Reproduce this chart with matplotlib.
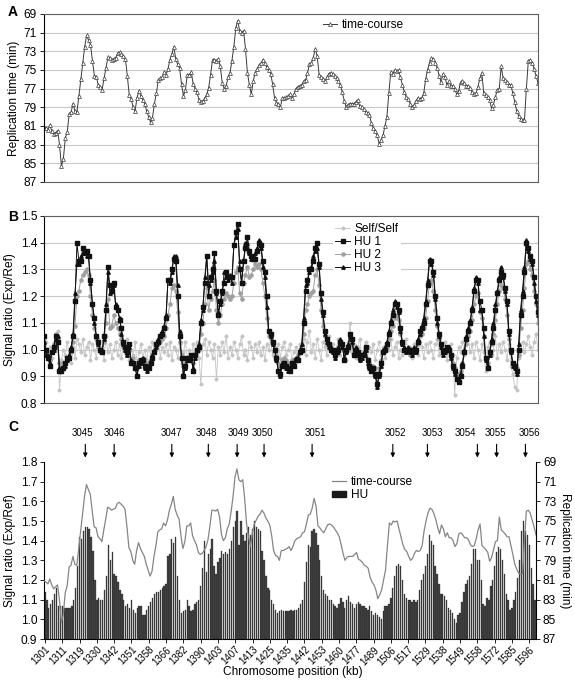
"""
Replication profile figure: time-course replication time (A), HU signal
ratios for three replicates plus a self/self control (B), and the mean HU
signal drawn as bars against the time-course (C).
"""

import numpy as np
import matplotlib
matplotlib.use("Agg")
import matplotlib.pyplot as plt
from matplotlib.lines import Line2D
from matplotlib.patches import Patch
from matplotlib.ticker import FormatStrFormatter
from matplotlib.transforms import offset_copy

plt.rcParams["font.family"] = ["Liberation Sans", "DejaVu Sans"]
plt.rcParams["font.size"] = 8.6

W_PX, H_PX = 575, 684

# chromosome position (kb) shown every 9th probe under panel C
POS_LABELS = ["1301", "1311", "1319", "1330", "1342", "1351", "1358", "1366",
              "1382", "1390", "1403", "1407", "1413", "1425", "1435", "1442",
              "1453", "1460", "1477", "1489", "1506", "1517", "1529", "1538",
              "1549", "1558", "1572", "1585", "1596"]
LABEL_STEP = 9

# origins marked above panel C (probe index)
ARS_NAMES = ["3045", "3046", "3047", "3048", "3049", "3050",
             "3051", "3052", "3053", "3054", "3055", "3056"]
ARS_PROBE = [21, 36, 66, 85, 100, 114, 139, 181, 199, 225, 235, 250]
# the names sit a little off their arrows in the original (pixels)
ARS_TEXT_SHIFT = [-3, 0, 0, -1.5, 1, -2, 3, 3, 5, -12, -1.5, 4.5]

# replication time (min), one value per probe
TIME_COURSE = [
    81.1, 81.2, 81.4, 80.9, 81.5, 81.9, 81.7, 81.5, 83.0, 85.3,
    84.5, 82.3, 81.6, 79.7, 79.5, 78.6, 79.4, 79.5, 77.8, 76.0,
    74.3, 72.5, 71.3, 71.8, 72.3, 74.0, 75.6, 75.7, 76.6, 76.8,
    77.1, 75.9, 74.8, 73.6, 73.7, 73.9, 73.8, 73.7, 73.2, 73.1,
    73.3, 73.5, 73.8, 75.6, 77.7, 78.1, 79.0, 79.4, 78.0, 77.2,
    77.8, 78.2, 78.6, 79.4, 80.0, 80.6, 80.1, 78.6, 77.5, 76.1,
    75.9, 75.8, 75.2, 75.5, 74.9, 73.9, 73.3, 72.5, 73.8, 74.4,
    74.8, 76.5, 77.8, 77.1, 75.5, 75.5, 75.2, 76.5, 77.0, 77.4,
    78.2, 78.4, 78.3, 78.0, 77.6, 76.9, 75.5, 73.9, 73.9, 74.0,
    73.8, 74.6, 76.4, 77.0, 76.7, 75.8, 75.3, 74.0, 72.5, 70.5,
    69.7, 70.8, 71.0, 70.8, 72.7, 75.3, 76.6, 77.6, 76.2, 75.3,
    74.9, 74.5, 74.3, 73.9, 74.2, 74.7, 75.0, 75.4, 76.5, 78.0,
    78.5, 78.6, 79.0, 78.0, 78.0, 77.9, 77.8, 77.6, 78.0, 77.6,
    77.0, 76.8, 76.7, 76.6, 76.2, 76.1, 75.3, 74.4, 74.3, 73.7,
    72.7, 73.5, 75.5, 75.7, 76.0, 76.2, 75.8, 75.4, 75.3, 75.4,
    75.6, 75.9, 76.2, 76.6, 77.4, 78.3, 79.0, 78.7, 78.6, 78.6,
    78.6, 78.4, 78.2, 78.9, 79.0, 79.2, 79.5, 79.6, 79.8, 80.7,
    81.2, 81.5, 82.0, 82.9, 82.5, 82.0, 81.0, 80.0, 77.5, 75.2,
    75.4, 75.0, 75.1, 75.0, 75.8, 76.6, 77.4, 77.9, 78.1, 78.6,
    79.0, 78.8, 78.3, 78.0, 78.1, 78.0, 77.5, 76.0, 75.0, 74.2,
    73.7, 73.8, 74.2, 74.8, 75.6, 76.3, 75.4, 75.8, 76.6, 76.2,
    76.7, 76.7, 77.0, 77.6, 77.3, 76.3, 76.2, 76.4, 76.7, 76.7,
    76.9, 77.4, 77.6, 77.5, 76.8, 75.9, 75.3, 77.5, 77.7, 77.9,
    78.2, 79.1, 78.7, 77.9, 77.1, 77.0, 74.6, 75.9, 76.1, 76.3,
    76.6, 76.6, 77.5, 78.4, 79.4, 79.9, 80.3, 80.4, 80.4, 77.0,
    74.0, 73.9, 74.2, 74.9, 75.6, 76.4,
]

SELF_SELF = [
    1.04, 1.03, 0.99, 1.01, 0.97, 1.02, 1.06, 1.07, 0.85, 0.96,
    1.00, 0.98, 1.03, 0.97, 0.95, 1.01, 0.97, 1.04, 1.02, 0.99,
    1.04, 0.98, 1.01, 1.03, 0.96, 1.02, 1.00, 0.97, 1.04, 0.99,
    1.01, 0.96, 1.05, 0.99, 1.02, 0.97, 1.00, 1.03, 0.98, 1.02,
    0.97, 1.01, 0.99, 1.04, 0.96, 1.00, 0.98, 1.03, 0.95, 0.99,
    1.02, 0.97, 1.00, 0.96, 1.01, 0.98, 1.03, 0.99, 1.00, 1.04,
    0.97, 1.01, 0.99, 1.02, 0.98, 1.03, 0.96, 1.01, 1.00, 0.97,
    1.02, 0.95, 0.99, 1.03, 0.97, 1.00, 0.96, 1.02, 0.99, 1.03,
    0.97, 0.87, 1.02, 1.04, 0.98, 1.03, 1.00, 0.97, 1.02, 0.89,
    1.01, 0.98, 1.03, 0.99, 1.05, 0.97, 1.01, 0.98, 1.03, 1.00,
    0.97, 1.02, 1.05, 0.98, 1.00, 0.96, 1.03, 1.01, 0.97, 1.02,
    0.99, 1.03, 0.98, 1.01, 0.96, 1.02, 1.00, 1.03, 0.98, 1.01,
    0.99, 1.02, 0.97, 1.01, 1.03, 0.98, 1.00, 1.02, 0.96, 0.99,
    1.01, 0.97, 1.02, 0.99, 1.04, 0.98, 1.03, 1.07, 0.99, 1.02,
    0.97, 1.04, 1.00, 0.96, 1.03, 1.01, 0.98, 1.05, 0.99, 1.02,
    0.97, 1.01, 1.04, 0.98, 1.02, 1.00, 0.96, 1.03, 1.10, 0.99,
    1.02, 0.97, 1.01, 1.04, 0.98, 1.00, 1.03, 0.97, 1.01, 0.99,
    1.02, 0.96, 1.00, 1.03, 0.98, 1.01, 0.97, 1.02, 1.00, 1.04,
    0.98, 1.01, 1.03, 0.97, 1.00, 0.98, 1.02, 1.04, 0.99, 1.01,
    0.97, 1.02, 1.00, 0.98, 1.03, 1.01, 0.97, 1.02, 0.99, 1.03,
    1.00, 0.97, 1.02, 1.04, 0.98, 1.01, 0.99, 1.03, 0.96, 1.00,
    1.02, 0.98, 0.83, 0.97, 1.01, 0.99, 1.03, 0.98, 1.02, 1.05,
    0.99, 1.02, 0.97, 1.03, 1.00, 0.96, 1.02, 0.99, 0.92, 1.01,
    1.03, 0.98, 1.00, 1.05, 0.97, 1.02, 0.99, 1.03, 1.00, 0.96,
    1.02, 0.94, 0.91, 0.86, 0.85, 0.97, 1.00, 1.03, 0.99, 1.02,
    1.05, 1.01, 0.98, 1.03, 1.06, 1.00,
]

HU1 = [
    1.05, 1.00, 0.97, 0.94, 0.99, 1.01, 1.05, 1.03, 0.92, 0.92,
    0.93, 0.95, 0.97, 0.97, 1.00, 1.05, 1.18, 1.40, 1.33, 1.33,
    1.38, 1.36, 1.37, 1.35, 1.26, 1.17, 1.12, 1.05, 1.03, 1.00,
    0.99, 1.05, 1.15, 1.31, 1.24, 1.22, 1.25, 1.16, 1.15, 1.11,
    1.08, 1.03, 1.01, 0.99, 1.02, 0.95, 0.95, 0.93, 0.90, 0.95,
    0.96, 0.96, 0.94, 0.93, 0.93, 0.95, 0.97, 0.99, 1.02, 1.03,
    1.05, 1.06, 1.08, 1.12, 1.26, 1.26, 1.30, 1.34, 1.33, 1.20,
    1.05, 0.97, 0.90, 0.94, 0.97, 0.96, 0.98, 0.92, 0.98, 1.00,
    1.01, 1.10, 1.16, 1.25, 1.35, 1.20, 1.27, 1.30, 1.36, 1.22,
    1.13, 1.18, 1.22, 1.25, 1.29, 1.27, 1.27, 1.27, 1.39, 1.44,
    1.47, 1.30, 1.25, 1.33, 1.38, 1.42, 1.37, 1.35, 1.34, 1.34,
    1.37, 1.40, 1.39, 1.33, 1.29, 1.20, 1.07, 1.06, 1.03, 1.00,
    0.97, 0.92, 0.91, 0.94, 0.95, 0.94, 0.93, 0.92, 0.95, 0.94,
    0.96, 0.96, 0.99, 1.00, 1.10, 1.22, 1.26, 1.30, 1.30, 1.33,
    1.38, 1.40, 1.32, 1.21, 1.14, 1.07, 1.04, 1.02, 1.00, 1.00,
    0.98, 0.99, 1.00, 1.03, 1.02, 0.96, 1.00, 1.01, 1.06, 1.04,
    0.98, 1.00, 0.99, 0.97, 0.98, 0.98, 1.01, 0.96, 0.94, 0.92,
    0.93, 0.91, 0.87, 0.91, 0.95, 0.99, 1.00, 1.02, 1.06, 1.10,
    1.13, 1.17, 1.17, 1.15, 1.08, 1.03, 1.00, 1.00, 1.00, 1.00,
    0.99, 1.00, 1.00, 1.03, 1.07, 1.08, 1.10, 1.17, 1.24, 1.33,
    1.33, 1.29, 1.20, 1.12, 1.06, 1.02, 0.99, 1.00, 1.01, 1.00,
    0.98, 0.94, 0.92, 0.89, 0.88, 0.90, 0.94, 0.99, 1.04, 1.07,
    1.10, 1.15, 1.22, 1.26, 1.26, 1.18, 1.15, 1.08, 0.97, 0.93,
    0.99, 1.03, 1.08, 1.15, 1.21, 1.26, 1.29, 1.28, 1.23, 1.18,
    1.07, 1.00, 0.95, 0.94, 0.92, 1.00, 1.13, 1.20, 1.29, 1.40,
    1.38, 1.35, 1.33, 1.27, 1.20, 1.14,
]

HU2 = [
    1.03, 0.99, 0.97, 0.96, 0.99, 1.02, 1.06, 1.04, 0.95, 0.93,
    0.95, 0.95, 0.96, 0.97, 0.99, 1.03, 1.09, 1.20, 1.22, 1.26,
    1.28, 1.29, 1.30, 1.28, 1.20, 1.13, 1.08, 1.04, 1.01, 0.99,
    0.99, 1.03, 1.10, 1.19, 1.08, 1.09, 1.13, 1.10, 1.08, 1.06,
    1.04, 1.01, 1.00, 0.98, 1.00, 0.96, 0.97, 0.95, 0.93, 0.96,
    0.96, 0.97, 0.95, 0.94, 0.95, 0.96, 0.98, 0.99, 1.01, 1.02,
    1.03, 1.04, 1.05, 1.08, 1.13, 1.17, 1.23, 1.24, 1.22, 1.14,
    1.03, 0.98, 0.94, 0.95, 0.97, 0.97, 0.98, 0.95, 0.98, 0.99,
    1.00, 1.06, 1.10, 1.17, 1.23, 1.15, 1.19, 1.22, 1.26, 1.15,
    1.10, 1.13, 1.17, 1.19, 1.21, 1.20, 1.19, 1.20, 1.25, 1.29,
    1.31, 1.21, 1.19, 1.25, 1.28, 1.31, 1.27, 1.28, 1.30, 1.32,
    1.31, 1.32, 1.30, 1.25, 1.20, 1.12, 1.05, 1.04, 1.02, 1.00,
    0.98, 0.95, 0.94, 0.96, 0.97, 0.96, 0.95, 0.95, 0.96, 0.96,
    0.97, 0.98, 0.99, 1.00, 1.06, 1.15, 1.17, 1.20, 1.21, 1.22,
    1.28, 1.30, 1.24, 1.15, 1.09, 1.05, 1.02, 1.01, 1.00, 0.99,
    0.98, 0.99, 1.00, 1.02, 1.01, 0.97, 0.99, 1.00, 1.04, 1.02,
    0.98, 0.99, 0.99, 0.97, 0.98, 0.98, 1.00, 0.96, 0.95, 0.94,
    0.94, 0.93, 0.90, 0.93, 0.96, 0.99, 1.00, 1.01, 1.04, 1.07,
    1.09, 1.12, 1.13, 1.11, 1.06, 1.02, 1.00, 0.99, 0.99, 0.98,
    0.98, 0.99, 1.00, 1.02, 1.05, 1.06, 1.08, 1.12, 1.18, 1.25,
    1.26, 1.22, 1.15, 1.09, 1.04, 1.01, 0.99, 0.99, 1.00, 1.00,
    0.97, 0.95, 0.93, 0.91, 0.91, 0.92, 0.95, 0.99, 1.02, 1.05,
    1.07, 1.11, 1.17, 1.20, 1.21, 1.14, 1.12, 1.05, 0.97, 0.95,
    0.98, 1.02, 1.06, 1.11, 1.17, 1.22, 1.24, 1.23, 1.19, 1.13,
    1.04, 0.99, 0.95, 0.94, 0.93, 0.98, 1.08, 1.15, 1.23, 1.32,
    1.33, 1.30, 1.28, 1.22, 1.17, 1.10,
]

HU3 = [
    1.03, 0.98, 0.98, 0.95, 0.99, 1.00, 1.04, 1.05, 0.93, 0.92,
    0.93, 0.94, 0.96, 0.98, 1.01, 1.06, 1.21, 1.32, 1.32, 1.35,
    1.36, 1.37, 1.35, 1.35, 1.25, 1.17, 1.10, 1.05, 1.02, 1.00,
    1.00, 1.04, 1.17, 1.29, 1.21, 1.23, 1.24, 1.17, 1.15, 1.12,
    1.06, 1.02, 1.00, 0.98, 1.01, 0.96, 0.95, 0.94, 0.90, 0.94,
    0.95, 0.97, 0.93, 0.92, 0.94, 0.96, 0.98, 1.00, 1.01, 1.04,
    1.05, 1.07, 1.09, 1.13, 1.26, 1.25, 1.29, 1.35, 1.35, 1.24,
    1.07, 0.97, 0.91, 0.93, 0.96, 0.97, 0.97, 0.93, 0.97, 1.00,
    1.02, 1.11, 1.15, 1.27, 1.35, 1.24, 1.26, 1.29, 1.33, 1.21,
    1.14, 1.17, 1.21, 1.29, 1.27, 1.26, 1.28, 1.25, 1.39, 1.42,
    1.45, 1.33, 1.25, 1.33, 1.40, 1.40, 1.36, 1.34, 1.35, 1.36,
    1.38, 1.41, 1.38, 1.31, 1.27, 1.16, 1.07, 1.05, 1.02, 1.00,
    0.96, 0.92, 0.90, 0.95, 0.94, 0.93, 0.92, 0.93, 0.94, 0.95,
    0.97, 0.97, 1.00, 1.02, 1.12, 1.24, 1.25, 1.29, 1.31, 1.35,
    1.37, 1.38, 1.31, 1.19, 1.13, 1.06, 1.03, 1.01, 1.01, 0.99,
    0.97, 0.99, 1.01, 1.04, 1.01, 0.97, 0.99, 1.02, 1.05, 1.03,
    0.99, 1.01, 0.98, 0.96, 0.97, 0.99, 1.00, 0.95, 0.93, 0.93,
    0.92, 0.90, 0.86, 0.90, 0.94, 1.00, 1.01, 1.03, 1.07, 1.11,
    1.15, 1.18, 1.16, 1.14, 1.07, 1.02, 1.01, 0.99, 1.01, 0.99,
    0.98, 1.01, 0.99, 1.04, 1.06, 1.09, 1.12, 1.18, 1.26, 1.34,
    1.32, 1.28, 1.19, 1.10, 1.05, 1.01, 0.98, 0.99, 1.00, 1.01,
    0.97, 0.93, 0.91, 0.89, 0.89, 0.91, 0.95, 1.00, 1.05, 1.08,
    1.11, 1.16, 1.23, 1.27, 1.25, 1.15, 1.15, 1.05, 0.96, 0.94,
    0.98, 1.04, 1.10, 1.17, 1.22, 1.27, 1.31, 1.27, 1.22, 1.17,
    1.06, 0.99, 0.94, 0.93, 0.91, 1.02, 1.15, 1.22, 1.31, 1.41,
    1.37, 1.34, 1.32, 1.25, 1.18, 1.13,
]

# panel C bars: HU signal ratio per probe
HU_BARS = [
    1.14, 1.10, 1.06, 1.08, 1.10, 1.13, 1.16, 1.07, 1.07, 1.07,
    1.06, 1.06, 1.06, 1.06, 1.07, 1.10, 1.16, 1.27, 1.42, 1.41,
    1.45, 1.47, 1.47, 1.46, 1.42, 1.35, 1.20, 1.10, 1.11, 1.10,
    1.10, 1.15, 1.22, 1.38, 1.30, 1.34, 1.23, 1.22, 1.19, 1.15,
    1.13, 1.10, 1.07, 1.08, 1.06, 1.10, 1.05, 1.03, 1.06, 1.07,
    1.07, 1.02, 1.02, 1.05, 1.07, 1.09, 1.11, 1.13, 1.14, 1.14,
    1.15, 1.16, 1.17, 1.18, 1.32, 1.33, 1.41, 1.39, 1.42, 1.22,
    1.10, 1.03, 1.04, 1.05, 1.10, 1.07, 1.04, 1.05, 1.08, 1.09,
    1.10, 1.17, 1.26, 1.40, 1.24, 1.33, 1.36, 1.41, 1.27, 1.23,
    1.29, 1.31, 1.35, 1.33, 1.34, 1.33, 1.36, 1.40, 1.47, 1.50,
    1.55, 1.38, 1.50, 1.43, 1.40, 1.44, 1.47, 1.43, 1.46, 1.50,
    1.47, 1.46, 1.45, 1.35, 1.30, 1.22, 1.16, 1.15, 1.10, 1.08,
    1.05, 1.03, 1.04, 1.05, 1.04, 1.04, 1.04, 1.04, 1.05, 1.04,
    1.05, 1.05, 1.06, 1.08, 1.10, 1.19, 1.29, 1.38, 1.37, 1.45,
    1.46, 1.44, 1.38, 1.30, 1.22, 1.15, 1.13, 1.12, 1.10, 1.10,
    1.08, 1.07, 1.06, 1.08, 1.11, 1.09, 1.06, 1.10, 1.12, 1.09,
    1.08, 1.06, 1.08, 1.09, 1.08, 1.07, 1.07, 1.06, 1.05, 1.07,
    1.04, 1.02, 1.03, 1.02, 1.01, 1.00, 1.04, 1.07, 1.07, 1.08,
    1.11, 1.16, 1.22, 1.27, 1.28, 1.27, 1.20, 1.13, 1.11, 1.10,
    1.10, 1.09, 1.10, 1.09, 1.10, 1.15, 1.20, 1.23, 1.27, 1.33,
    1.43, 1.40, 1.38, 1.27, 1.23, 1.18, 1.13, 1.13, 1.12, 1.10,
    1.06, 1.05, 1.03, 1.00, 0.98, 1.02, 1.03, 1.09, 1.14, 1.18,
    1.20, 1.22, 1.28, 1.36, 1.36, 1.30, 1.30, 1.20, 1.08, 1.07,
    1.11, 1.10, 1.17, 1.20, 1.27, 1.34, 1.37, 1.36, 1.30, 1.23,
    1.13, 1.10, 1.05, 1.06, 1.10, 1.14, 1.21, 1.30, 1.45, 1.50,
    1.45, 1.43, 1.38, 1.26, 1.18, 1.10,
]


def rect(left, top, right, bottom):
    """Pixel box of the reference image -> figure fraction rectangle."""
    return [left / W_PX, 1 - bottom / H_PX, (right - left) / W_PX, (bottom - top) / H_PX]


def frame(ax, color="#606060"):
    for side in ("top", "right", "bottom"):
        ax.spines[side].set_color(color)
        ax.spines[side].set_linewidth(0.8)
    ax.spines["left"].set_color("black")
    ax.spines["left"].set_linewidth(0.8)


def panel_a(fig):
    ax = fig.add_axes(rect(44, 14, 538, 182))
    x = np.arange(len(TIME_COURSE))
    ax.plot(x, TIME_COURSE, color="#3a3a3a", lw=0.7, marker="^", ms=2.8,
            mfc="white", mec="#3a3a3a", mew=0.5, label="time-course")
    ax.set_xlim(0, len(x) - 1)
    ax.set_ylim(87, 69)
    ax.set_yticks(range(69, 88, 2))
    ax.set_xticks([])
    ax.yaxis.grid(True, color="#c8c8c8", lw=0.8)
    ax.set_axisbelow(True)
    frame(ax)
    ax.tick_params(axis="y", length=3, width=0.6, pad=2)
    ax.set_ylabel("Replication time (min)", labelpad=3)
    ax.legend(loc="center left", bbox_to_anchor=(0.56, 0.934), frameon=True,
              facecolor="white", edgecolor="none", framealpha=1, fancybox=False,
              handlelength=1.2, handletextpad=0.4, borderpad=0.2, borderaxespad=0)
    fig.text(8 / W_PX, 1 - 12 / H_PX, "A", fontsize=10, fontweight="bold", va="center")


def panel_b(fig):
    ax = fig.add_axes(rect(44, 216, 538, 403))
    x = np.arange(len(HU1))
    ax.plot(x, SELF_SELF, color="#c4c4c4", lw=0.6, marker="D", ms=1.6,
            mfc="#c4c4c4", mec="#c4c4c4", label="Self/Self")
    ax.plot(x, HU2, color="#a0a0a0", lw=0.7, marker="o", ms=2.3,
            mfc="#a0a0a0", mec="#a0a0a0", label="HU 2")
    ax.plot(x, HU1, color="#111111", lw=0.7, marker="s", ms=2.3,
            mfc="#111111", mec="#111111", label="HU 1")
    ax.plot(x, HU3, color="#111111", lw=0.7, marker="^", ms=2.5,
            mfc="#111111", mec="#111111", label="HU 3")
    ax.set_xlim(0, len(x) - 1)
    ax.set_ylim(0.8, 1.5)
    ax.set_yticks(np.arange(0.8, 1.51, 0.1))
    ax.yaxis.set_major_formatter(FormatStrFormatter("%.1f"))
    ax.set_xticks([])
    ax.yaxis.grid(True, color="#c8c8c8", lw=0.8)
    ax.set_axisbelow(True)
    frame(ax)
    ax.tick_params(axis="y", length=3, width=0.6, pad=2)
    ax.set_ylabel("Signal ratio (Exp/Ref)", labelpad=3)
    handles, labels = ax.get_legend_handles_labels()
    order = [labels.index(k) for k in ("Self/Self", "HU 1", "HU 2", "HU 3")]
    ax.legend([handles[i] for i in order], [labels[i] for i in order],
              loc="center left", bbox_to_anchor=(0.585, 0.826), frameon=True,
              facecolor="white", edgecolor="none", framealpha=1, fancybox=False,
              handlelength=1.2, handletextpad=0.4, borderpad=0.2,
              labelspacing=0.1, borderaxespad=0)
    fig.text(8 / W_PX, 1 - 217 / H_PX, "B", fontsize=10, fontweight="bold", va="center")


def panel_c(fig):
    box = rect(44, 462, 536, 639)
    ax = fig.add_axes(box)
    n = len(HU_BARS)
    x = np.arange(n)
    ax.bar(x, HU_BARS, width=0.7, color="#444444", edgecolor="#1a1a1a", lw=0.2)
    ax.set_xlim(-0.5, n - 0.5)
    ax.set_ylim(0.9, 1.8)
    ax.set_yticks(np.arange(0.9, 1.81, 0.1))
    ax.yaxis.set_major_formatter(FormatStrFormatter("%.1f"))
    ticks = list(range(0, n, LABEL_STEP))[:len(POS_LABELS)]
    ax.set_xticks(ticks)
    ax.set_xticklabels(POS_LABELS, rotation=45, ha="right", rotation_mode="anchor",
                       fontsize=7.0)
    ax.tick_params(axis="x", length=3, width=0.6, pad=1)
    ax.tick_params(axis="y", length=3, width=0.6, pad=2)
    for side in ("top", "right"):
        ax.spines[side].set_visible(False)
    ax.spines["left"].set_linewidth(0.8)
    ax.spines["bottom"].set_linewidth(0.8)
    ax.set_ylabel("Signal ratio (Exp/Ref)", labelpad=3)
    ax.set_xlabel("Chromosome position (kb)")
    ax.xaxis.set_label_coords(0.505, -0.152)

    # time-course on its own overlay so it spans the full width
    ax2 = fig.add_axes(box)
    ax2.patch.set_visible(False)
    ax2.plot(np.arange(len(TIME_COURSE)), TIME_COURSE, color="#858585", lw=0.9)
    ax2.set_xlim(0, len(TIME_COURSE) - 1)
    ax2.set_ylim(87, 69)
    ax2.set_yticks(range(69, 88, 2))
    ax2.set_xticks([])
    ax2.yaxis.tick_right()
    ax2.yaxis.set_label_position("right")
    ax2.set_ylabel("Replication time (min)", rotation=270, labelpad=11)
    ax2.tick_params(axis="y", length=3, width=0.6, pad=2)
    for side in ("top", "left", "bottom"):
        ax2.spines[side].set_visible(False)
    ax2.spines["right"].set_linewidth(0.8)

    handles = [Line2D([], [], color="#858585", lw=0.9),
               Patch(facecolor="#1a1a1a", edgecolor="#1a1a1a")]
    ax2.legend(handles, ["time-course", "HU"], loc="center left",
               bbox_to_anchor=(0.58, 0.85), frameon=False, handlelength=1.2,
               handleheight=0.5, handletextpad=0.4, labelspacing=0.1,
               borderpad=0.2, borderaxespad=0)

    tr = ax.get_xaxis_transform()
    for name, p, shift in zip(ARS_NAMES, ARS_PROBE, ARS_TEXT_SHIFT):
        ax.annotate("", xy=(p, 1.025), xytext=(p, 1.10), xycoords=tr, textcoords=tr,
                    arrowprops=dict(arrowstyle="-|>", color="black", lw=0.8,
                                    mutation_scale=6, shrinkA=0, shrinkB=0))
        text_tr = offset_copy(tr, fig=fig, x=shift * 0.72, units="points")
        ax.text(p, 1.165, name, transform=text_tr, ha="center", va="center",
                fontsize=7.0)
    fig.text(8 / W_PX, 1 - 427 / H_PX, "C", fontsize=10, fontweight="bold", va="center")


def main():
    fig = plt.figure(figsize=(W_PX / 100, H_PX / 100), dpi=100)
    panel_a(fig)
    panel_b(fig)
    panel_c(fig)
    fig.savefig("out.png", dpi=100)
    plt.close(fig)


if __name__ == "__main__":
    main()
